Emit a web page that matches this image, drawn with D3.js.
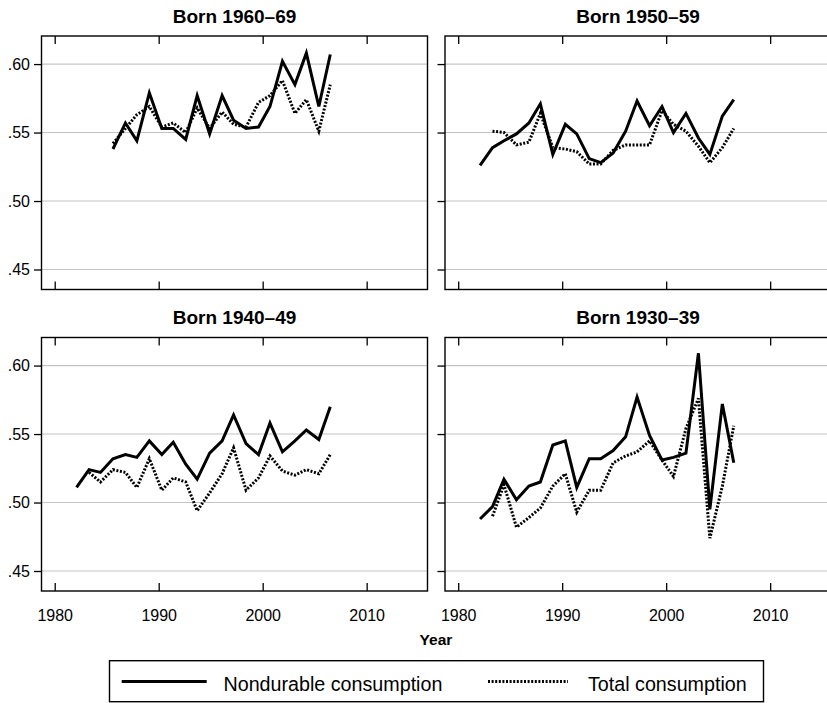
<!DOCTYPE html>
<html lang="en">
<head>
  <meta charset="utf-8">
  <script src="https://d3js.org/d3.v7.min.js"></script>
  <style>
    body, html {
      margin: 0;
      padding: 0;
      background: #fff;
    }
    svg {
      display: block;
      font-family: "Liberation Sans", Arial, sans-serif;
    }
    .grid line {
      stroke: #c4c4c4;
      stroke-width: 1.1px;
    }
    .frame {
      fill: none;
      stroke: #000;
      stroke-width: 1.4px;
    }
    .axis path {
      display: none;
    }
    .axis line {
      stroke: #000;
      stroke-width: 1.3px;
    }
    .axis text {
      font-size: 16px;
      fill: #000;
    }
    .solid {
      fill: none;
      stroke: #000;
      stroke-width: 3px;
    }
    .dotted {
      fill: none;
      stroke: #000;
      stroke-width: 3px;
      stroke-dasharray: 2, 1.6;
    }
  </style>
</head>
<body>
<svg id="chart" width="827" height="703"></svg>

<script>
  // survey years (shared by all cohorts)
  var years = [1982.1, 1983.3, 1984.4, 1985.6, 1986.8, 1987.9, 1989.1, 1990.3, 1991.4, 1992.6, 1993.7,
               1994.9, 1996.1, 1997.2, 1998.4, 1999.6, 2000.7, 2001.9, 2003.1, 2004.2, 2005.4, 2006.5];

  var titles = ["Born 1960\u201369", "Born 1950\u201359", "Born 1940\u201349", "Born 1930\u201339"];
  var seriesNames = ["Nondurable consumption", "Total consumption"];

  var nondurable6069 = [null, null, null, .538, .557, .544, .579, .553, .553, .545, .577,
                        .549, .577, .559, .553, .554, .569, .602, .585, .608, .569, .607];
  var total6069      = [null, null, null, .542, .553, .563, .569, .554, .557, .550, .568,
                        .553, .565, .556, .554, .572, .577, .588, .564, .574, .551, .585];

  var nondurable5059 = [.526, .539, .544, .549, .557, .571, .534, .556, .549, .531, .528,
                        .535, .551, .573, .555, .569, .550, .564, .546, .534, .562, .574];
  var total5059      = [null, .551, .550, .541, .543, .564, .539, .538, .536, .527, .527,
                        .537, .541, .541, .541, .566, .556, .551, .540, .528, .539, .553];

  var nondurable4049 = [.511, .524, .522, .532, .535, .533, .545, .535, .544, .528, .517,
                        .536, .545, .564, .543, .535, .558, .537, .545, .553, .546, .570];
  var total4049      = [null, .522, .515, .524, .522, .511, .532, .509, .518, .515, .494,
                        .507, .521, .540, .509, .518, .534, .523, .520, .524, .521, .535];

  var nondurable3039 = [.488, .497, .517, .502, .512, .515, .542, .545, .511, .532, .532,
                        .538, .548, .577, .549, .531, .533, .536, .609, .495, .572, .529];
  var total3039      = [null, .490, .513, .482, .489, .496, .512, .521, .493, .509, .509,
                        .529, .534, .537, .545, .531, .519, .554, .576, .474, .512, .556];

  var xTicks = [1980, 1990, 2000, 2010];
  var yTicks = [.45, .50, .55, .60];

  var panels = [
    {title: titles[0], solid: nondurable6069, dotted: total6069, col: 0, row: 0},
    {title: titles[1], solid: nondurable5059, dotted: total5059, col: 1, row: 0},
    {title: titles[2], solid: nondurable4049, dotted: total4049, col: 0, row: 1},
    {title: titles[3], solid: nondurable3039, dotted: total3039, col: 1, row: 1}
  ];

  var pw = 386, ph = 253.5;
  var colX = [41.5, 445], rowY = [36, 337.5];

  var x = d3.scaleLinear().domain([1978.73, 2015.85]).range([0, pw]);
  var y = d3.scaleLinear().domain([0.4354, 0.6205]).range([ph, 0]);

  var svg = d3.select("#chart");

  var fmt = function(d) { return d3.format(".2f")(d).replace(/^0/, ""); };

  panels.forEach(function(p) {
    var g = svg.append("g")
      .attr("transform", "translate(" + colX[p.col] + "," + rowY[p.row] + ")");

    // horizontal grid
    g.append("g").attr("class", "grid")
      .selectAll("line").data(yTicks).enter().append("line")
      .attr("x1", 0).attr("x2", pw)
      .attr("y1", function(d) { return y(d); })
      .attr("y2", function(d) { return y(d); });

    // y axis, ticks outside
    g.append("g").attr("class", "axis")
      .call(d3.axisLeft(y).tickValues(yTicks).tickSize(7.5).tickPadding(4)
        .tickFormat(p.col == 0 ? fmt : ""));

    // x ticks inside, top and bottom
    g.append("g").attr("class", "axis")
      .call(d3.axisTop(x).tickValues(xTicks).tickSize(-8).tickFormat(""));
    g.append("g").attr("class", "axis")
      .attr("transform", "translate(0," + ph + ")")
      .call(d3.axisBottom(x).tickValues(xTicks).tickSize(-8).tickPadding(18.5)
        .tickFormat(p.row == 1 ? d3.format("d") : ""));

    var line = d3.line()
      .defined(function(d) { return d[1] != null; })
      .x(function(d) { return x(d[0]); })
      .y(function(d) { return y(d[1]); });

    g.append("path").attr("class", "dotted")
      .attr("d", line(years.map(function(yr, i) { return [yr, p.dotted[i]]; })));
    g.append("path").attr("class", "solid")
      .attr("d", line(years.map(function(yr, i) { return [yr, p.solid[i]]; })));

    g.append("rect").attr("class", "frame")
      .attr("width", pw).attr("height", ph);

    g.append("text")
      .attr("x", pw / 2).attr("y", -13.5)
      .attr("text-anchor", "middle")
      .style("font-size", "19px")
      .style("font-weight", "bold")
      .text(p.title);
  });

  svg.append("text")
    .attr("x", 436).attr("y", 645)
    .attr("text-anchor", "middle")
    .style("font-size", "15.5px")
    .style("font-weight", "bold")
    .text("Year");

  // legend
  var leg = svg.append("g");
  leg.append("rect").attr("class", "frame")
    .attr("x", 109.5).attr("y", 660.7).attr("width", 654).attr("height", 41);
  leg.append("line").attr("class", "solid")
    .attr("x1", 121.7).attr("x2", 206.7).attr("y1", 681.5).attr("y2", 681.5);
  leg.append("text").attr("x", 223.5).attr("y", 690.5)
    .style("font-size", "19.7px").text(seriesNames[0]);
  leg.append("line").attr("class", "dotted")
    .attr("x1", 488).attr("x2", 568).attr("y1", 681.5).attr("y2", 681.5);
  leg.append("text").attr("x", 588).attr("y", 690.5)
    .style("font-size", "19.7px").text(seriesNames[1]);
</script>
</body>
</html>
